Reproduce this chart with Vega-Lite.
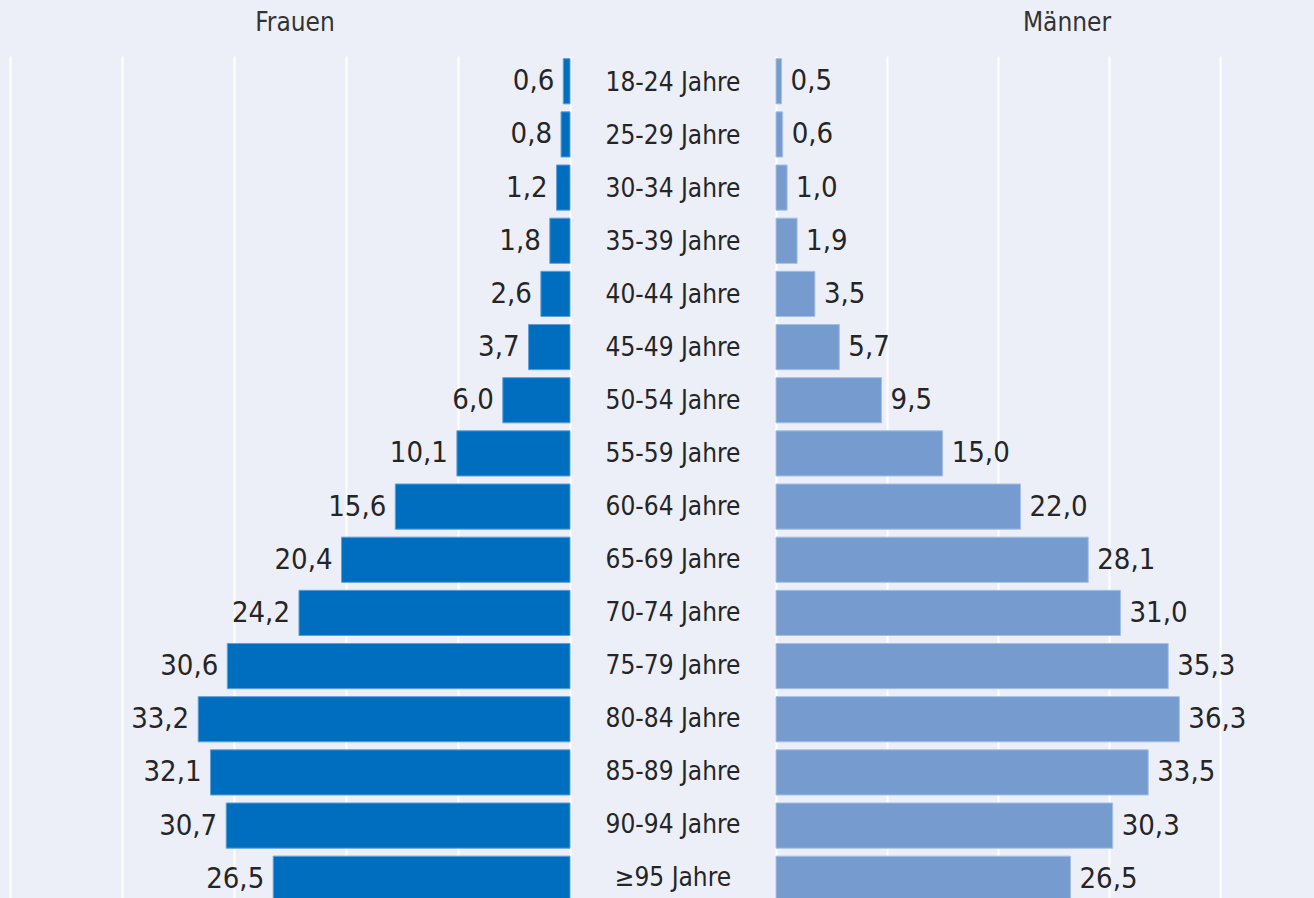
{
  "$schema": "https://vega.github.io/schema/vega-lite/v6.json",
  "background": "#eceef8",
  "padding": {"left": 0, "right": 0, "top": 10, "bottom": 0},
  "spacing": 0,
  "config": {
    "locale": {"number": {"decimal": ",", "thousands": ".", "grouping": [3], "currency": ["", " €"]}},
    "view": {"stroke": null},
    "font": "Liberation Sans Narrow, DejaVu Sans Condensed, sans-serif",
    "axis": {"domain": false, "ticks": false, "labels": false, "title": null, "grid": true, "gridColor": "#ffffff", "gridWidth": 2, "gridOpacity": 1},
    "title": {"fontSize": 26, "fontWeight": "normal", "color": "#333333", "baseline": "top", "offset": 20, "font": "Liberation Sans Narrow, DejaVu Sans Condensed, sans-serif"},
    "text": {"color": "#252525", "font": "Liberation Sans Narrow, DejaVu Sans Condensed, sans-serif"}
  },
  "datasets": {
    "pop": [
      {"age": "18-24 Jahre", "f": 0.6, "m": 0.5},
      {"age": "25-29 Jahre", "f": 0.8, "m": 0.6},
      {"age": "30-34 Jahre", "f": 1.2, "m": 1.0},
      {"age": "35-39 Jahre", "f": 1.8, "m": 1.9},
      {"age": "40-44 Jahre", "f": 2.6, "m": 3.5},
      {"age": "45-49 Jahre", "f": 3.7, "m": 5.7},
      {"age": "50-54 Jahre", "f": 6.0, "m": 9.5},
      {"age": "55-59 Jahre", "f": 10.1, "m": 15.0},
      {"age": "60-64 Jahre", "f": 15.6, "m": 22.0},
      {"age": "65-69 Jahre", "f": 20.4, "m": 28.1},
      {"age": "70-74 Jahre", "f": 24.2, "m": 31.0},
      {"age": "75-79 Jahre", "f": 30.6, "m": 35.3},
      {"age": "80-84 Jahre", "f": 33.2, "m": 36.3},
      {"age": "85-89 Jahre", "f": 32.1, "m": 33.5},
      {"age": "90-94 Jahre", "f": 30.7, "m": 30.3},
      {"age": "≥95 Jahre", "f": 26.5, "m": 26.5}
    ]
  },
  "hconcat": [
    {
      "width": 570,
      "height": 848,
      "data": {"name": "pop"},
      "title": {"text": "Frauen", "dx": 10},
      "encoding": {
        "y": {"field": "age", "type": "nominal", "sort": null, "axis": null, "scale": {"paddingInner": 0.15, "paddingOuter": 0.05}},
        "x": {"field": "f", "type": "quantitative", "scale": {"domain": [0, 50.9], "reverse": true, "nice": false, "zero": true}, "axis": {"values": [0, 10, 20, 30, 40, 50]}}
      },
      "layer": [
        {"mark": {"type": "bar", "color": "#006ebe", "stroke": "#5f9fdb", "strokeWidth": 1}},
        {"mark": {"type": "text", "align": "right", "baseline": "middle", "dx": -9, "fontSize": 29},
         "encoding": {"text": {"field": "f", "type": "quantitative", "format": ".1f"}}}
      ]
    },
    {
      "width": 204,
      "height": 848,
      "data": {"name": "pop"},
      "mark": {"type": "text", "align": "center", "baseline": "middle", "fontSize": 26},
      "encoding": {
        "y": {"field": "age", "type": "nominal", "sort": null, "axis": null, "scale": {"paddingInner": 0.15, "paddingOuter": 0.05}},
        "text": {"field": "age", "type": "nominal"}
      }
    },
    {
      "width": 540,
      "height": 848,
      "data": {"name": "pop"},
      "title": {"text": "Männer", "dx": 21},
      "encoding": {
        "y": {"field": "age", "type": "nominal", "sort": null, "axis": null, "scale": {"paddingInner": 0.15, "paddingOuter": 0.05}},
        "x": {"field": "m", "type": "quantitative", "scale": {"domain": [0, 48.6], "nice": false, "zero": true}, "axis": {"values": [0, 10, 20, 30, 40]}}
      },
      "layer": [
        {"mark": {"type": "bar", "color": "#769bcf", "stroke": "#a6bfe4", "strokeWidth": 1}},
        {"mark": {"type": "text", "align": "left", "baseline": "middle", "dx": 9, "fontSize": 29},
         "encoding": {"text": {"field": "m", "type": "quantitative", "format": ".1f"}}}
      ]
    }
  ]
}
